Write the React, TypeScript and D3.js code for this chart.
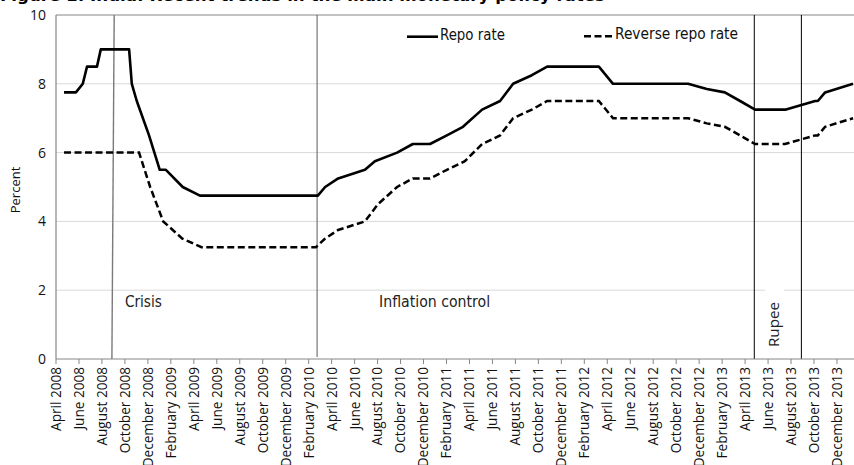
import React from 'react';
import * as d3 from 'd3';

// ---- Data ----
const repoDates = [
  '2008-04-22', '2008-05-23', '2008-06-11', '2008-06-22', '2008-07-18', '2008-07-28',
  '2008-10-12', '2008-10-19', '2008-11-02', '2008-12-04', '2009-01-02', '2009-01-18',
  '2009-03-02', '2009-04-17', '2010-02-25', '2010-03-14', '2010-04-18', '2010-06-28',
  '2010-07-24', '2010-09-22', '2010-11-03', '2010-12-18', '2011-02-02', '2011-03-14',
  '2011-05-04', '2011-06-21', '2011-07-25', '2011-09-14', '2011-10-24', '2012-03-09',
  '2012-04-16', '2012-11-02', '2012-12-21', '2013-02-08', '2013-03-18', '2013-04-27',
  '2013-07-18', '2013-10-04', '2013-10-11', '2013-10-30', '2014-01-13',
];
const repoRates = [
  7.75, 7.75, 8.0, 8.5, 8.5, 9.0,
  9.0, 8.0, 7.5, 6.5, 5.5, 5.5,
  5.0, 4.75, 4.75, 5.0, 5.25, 5.5,
  5.75, 6.0, 6.25, 6.25, 6.5, 6.75,
  7.25, 7.5, 8.0, 8.25, 8.5, 8.5,
  8.0, 8.0, 7.85, 7.75, 7.5, 7.25,
  7.25, 7.5, 7.5, 7.75, 8.0,
];

const reverseDates = [
  '2008-04-22', '2008-11-08', '2008-12-07', '2009-01-11', '2009-03-01', '2009-04-21',
  '2010-02-20', '2010-03-14', '2010-04-18', '2010-06-28', '2010-08-02', '2010-09-22',
  '2010-11-03', '2010-12-18', '2011-02-02', '2011-03-19', '2011-05-04', '2011-06-21',
  '2011-07-25', '2011-09-14', '2011-10-24', '2012-03-09', '2012-04-16', '2012-11-02',
  '2012-12-21', '2013-02-08', '2013-03-18', '2013-04-27', '2013-07-15', '2013-10-04',
  '2013-10-11', '2013-10-30', '2014-01-13',
];
const reverseRates = [
  6.0, 6.0, 5.0, 4.0, 3.5, 3.25,
  3.25, 3.5, 3.75, 4.0, 4.5, 5.0,
  5.25, 5.25, 5.5, 5.75, 6.25, 6.5,
  7.0, 7.25, 7.5, 7.5, 7.0, 7.0,
  6.85, 6.75, 6.5, 6.25, 6.25, 6.5,
  6.5, 6.75, 7.0,
];

const tickLabels = [
  'April 2008', 'June 2008', 'August 2008', 'October 2008', 'December 2008',
  'February 2009', 'April 2009', 'June 2009', 'August 2009', 'October 2009', 'December 2009',
  'February 2010', 'April 2010', 'June 2010', 'August 2010', 'October 2010', 'December 2010',
  'February 2011', 'April 2011', 'June 2011', 'August 2011', 'October 2011', 'December 2011',
  'February 2012', 'April 2012', 'June 2012', 'August 2012', 'October 2012', 'December 2012',
  'February 2013', 'April 2013', 'June 2013', 'August 2013', 'October 2013', 'December 2013',
];
const yTicks = [0, 2, 4, 6, 8, 10];
const seriesNames = ['Repo rate', 'Reverse repo rate'];

// phase markers
const crisisLine = ['2008-09-03', '2008-08-27']; // top, bottom
const inflationLine = '2010-02-23';
const rupeeLines = ['2013-04-25', '2013-08-28'];
const phaseLabels = ['Crisis', 'Inflation control', 'Rupee'];
const titleText = 'Figure 1: India: Recent trends in the main monetary policy rates';

const toMonths = (s: string) => {
  const [yy, mm, dd] = s.split('-').map(Number);
  return (yy - 2008) * 12 + (mm - 4) + (dd - 1) / 30;
};

const condensed = "'Liberation Sans Narrow', 'Arial Narrow', 'DejaVu Sans Condensed', sans-serif";
const regular = "'Open Sans', 'Noto Sans', sans-serif";

export default function App() {
  const W = 854;
  const H = 465;
  const x = d3.scaleLinear().domain([0, 70]).range([56, 56 + 70 * 11.485]);
  const y = d3.scaleLinear().domain([0, 10]).range([359, 15]);
  const left = x(0);
  const right = x(70);

  const repoPts: [number, number][] = repoDates.map((d, i) => [toMonths(d), repoRates[i]]);
  const revPts: [number, number][] = reverseDates.map((d, i) => [toMonths(d), reverseRates[i]]);
  const line = d3
    .line<[number, number]>()
    .x((d) => x(d[0]))
    .y((d) => y(d[1]));

  const axisColor = '#868686';
  const ticks = tickLabels.map((lab, i) => ({ lab, m: i * 2 }));

  const xi = x(toMonths(inflationLine));
  const xr1 = x(toMonths(rupeeLines[0]));
  const xr2 = x(toMonths(rupeeLines[1]));

  return (
    <svg
      width={W}
      height={H}
      style={{ position: 'absolute', left: 0, top: 0, display: 'block', background: '#fff' }}
    >
      <rect x={0} y={0} width={W} height={H} fill="#fff" />
      {/* title, mostly cut off at the top (as in the reference) */}
      <text
        x={0}
        y={1}
        fontFamily={condensed}
        fontWeight="bold"
        fontSize={15}
        textLength={605}
        lengthAdjust="spacingAndGlyphs"
        fill="#000"
      >
        {titleText}
      </text>

      {/* gridlines */}
      {yTicks
        .filter((t) => t > 0 && t < 10)
        .map((t) => (
          <line key={t} x1={left} x2={right} y1={y(t)} y2={y(t)} stroke="#d9d9d9" strokeWidth={1} />
        ))}

      {/* plot frame top */}
      <line x1={left} x2={right} y1={y(10)} y2={y(10)} stroke={axisColor} strokeWidth={1} />

      {/* phase marker lines */}
      <line
        x1={x(toMonths(crisisLine[0]))}
        y1={y(10)}
        x2={x(toMonths(crisisLine[1]))}
        y2={y(0)}
        stroke="#7a7a7a"
        strokeWidth={1.4}
      />
      <line x1={xi} x2={xi} y1={y(10)} y2={y(0) - 2} stroke="#5a5a5a" strokeWidth={1} />
      <line x1={xr1} x2={xr1} y1={y(10)} y2={y(0)} stroke="#000" strokeWidth={1} />
      <line x1={xr2} x2={xr2} y1={y(10)} y2={y(0)} stroke="#000" strokeWidth={1} />

      {/* phase labels */}
      <text x={x(toMonths(crisisLine[1])) + 13} y={307} fontFamily={condensed} fontSize={15} textLength={37} lengthAdjust="spacingAndGlyphs" fill="#222">
        {phaseLabels[0]}
      </text>
      <text x={xi + 62} y={307} fontFamily={condensed} fontSize={15} textLength={111} lengthAdjust="spacingAndGlyphs" fill="#222">
        {phaseLabels[1]}
      </text>
      <rect x={765} y={286} width={19} height={64} fill="#fff" />
      <text
        transform={`translate(${(xr1 + xr2) / 2 + 1.5},347) rotate(-90)`}
        fontFamily={regular}
        fontSize={14.5}
        textLength={45}
        lengthAdjust="spacingAndGlyphs"
        fill="#222"
      >
        {phaseLabels[2]}
      </text>

      {/* series */}
      <path d={line(revPts) || ''} fill="none" stroke="#000" strokeWidth={2.5} strokeDasharray="7,3.5" />
      <path d={line(repoPts) || ''} fill="none" stroke="#000" strokeWidth={2.6} strokeLinejoin="round" />

      {/* axes */}
      <line x1={left} x2={left} y1={y(10)} y2={y(0)} stroke={axisColor} strokeWidth={1.2} />
      <line x1={left} x2={right} y1={y(0)} y2={y(0)} stroke={axisColor} strokeWidth={1.2} />
      {ticks.map((t) => (
        <g key={t.lab}>
          <line x1={x(t.m)} x2={x(t.m)} y1={y(0)} y2={y(0) + 5} stroke={axisColor} strokeWidth={1} />
          <text
            transform={`translate(${x(t.m)},${y(0) + 8}) rotate(-90)`}
            textAnchor="end"
            dy="0.36em"
            fontFamily={regular}
            fontSize={13.6}
            fill="#111"
          >
            {t.lab}
          </text>
        </g>
      ))}
      {yTicks.map((t) => (
        <text key={t} x={46} y={y(t)} dy="0.35em" textAnchor="end" fontFamily={regular} fontSize={14} fill="#111">
          {t}
        </text>
      ))}
      <text
        transform={`translate(20,190) rotate(-90)`}
        textAnchor="middle"
        fontFamily={regular}
        fontSize={13}
        fill="#111"
      >
        Percent
      </text>

      {/* legend */}
      <line x1={407} x2={438} y1={36.7} y2={36.7} stroke="#000" strokeWidth={2.6} />
      <text x={440} y={39.5} fontFamily={condensed} fontSize={15.5} textLength={65} lengthAdjust="spacingAndGlyphs" fill="#111">
        {seriesNames[0]}
      </text>
      <line x1={584} x2={614} y1={36.2} y2={36.2} stroke="#000" strokeWidth={2.5} strokeDasharray="7,3.5" />
      <text x={615} y={38.8} fontFamily={condensed} fontSize={15.5} textLength={123} lengthAdjust="spacingAndGlyphs" fill="#111">
        {seriesNames[1]}
      </text>
    </svg>
  );
}
